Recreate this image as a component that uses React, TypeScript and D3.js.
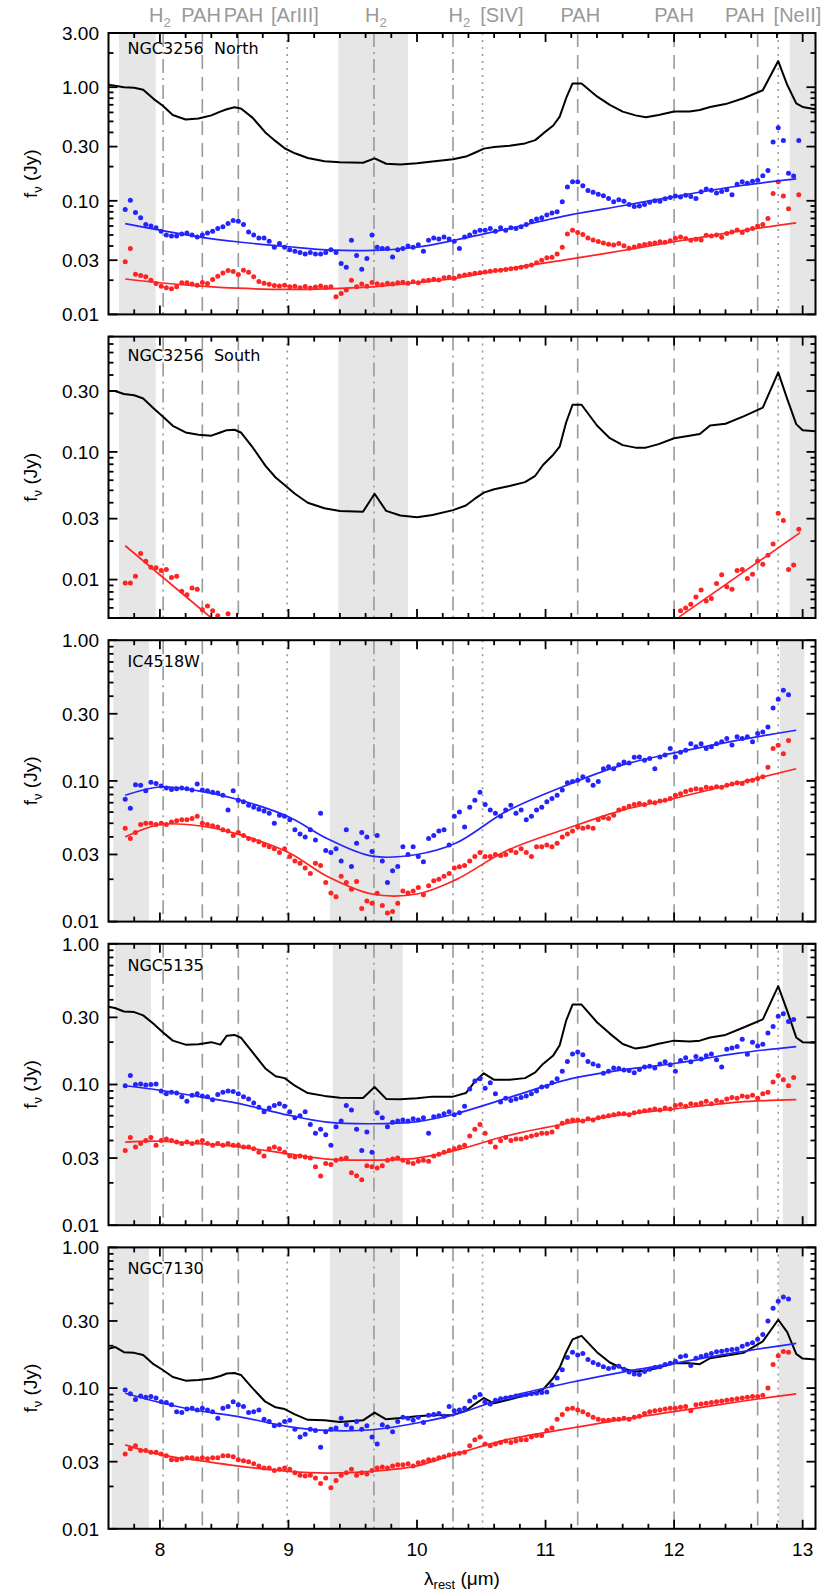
import React, { useEffect, useRef } from "react";
import * as d3 from "d3";

// wavelength grid of the dot spectra (micron)
const dotStart = 7.73;
const dotStep = 0.04;

const panelNames = ["NGC3256  North", "NGC3256  South", "IC4518W", "NGC5135", "NGC7130"];
const panelLo = [0.01, 0.005, 0.01, 0.01, 0.01];
const panelHi = [3, 0.8, 1, 1, 1];
const titleOffset = [21, 24, 27, 27, 27];
const yTickLabels = [0.01, 0.03, 0.1, 0.3, 1, 3];
const xTickLabels = [8, 9, 10, 11, 12, 13];

// grey bands, per panel
const bands = [
  [[7.682, 7.967], [9.388, 9.93], [12.9, 13.1]],
  [[7.682, 7.967], [9.388, 9.93], [12.9, 13.1]],
  [[7.637, 7.915], [9.323, 9.868], [12.824, 13.013]],
  [[7.651, 7.931], [9.344, 9.889], [12.845, 13.039]],
  [[7.625, 7.915], [9.323, 9.868], [12.816, 13.008]],
];

// emission features
const featureWl = [8.025, 8.33, 8.61, 8.99, 9.665, 10.28, 10.51, 11.25, 12.0, 12.65, 12.81];
const featureDash = ["dashdot", "dash", "dash", "dot", "dashdot", "dashdot", "dot", "dash", "dash", "dash", "dot"];
const featureLabel = ["H2", "PAH", "PAH", "[ArIII]", "H2", "H2", "[SIV]", "PAH", "PAH", "PAH", "[NeII]"];
const featureLabelWl = [8.0, 8.32, 8.65, 9.05, 9.68, 10.33, 10.66, 11.27, 12.0, 12.55, 12.96];

// black spectra
const blackWl = [7.6, 7.65, 7.72, 7.8, 7.87, 7.95, 8.02, 8.1, 8.2, 8.3, 8.4, 8.47, 8.52, 8.58, 8.63, 8.72, 8.82, 8.9, 8.97, 9.05,
  9.15, 9.28, 9.4, 9.58, 9.67, 9.76, 9.87, 10.0, 10.12, 10.28, 10.38, 10.45, 10.52, 10.6, 10.72, 10.84, 10.92, 10.98, 11.06, 11.11,
  11.16, 11.21, 11.28, 11.4, 11.5, 11.6, 11.7, 11.78, 11.88, 12.0, 12.12, 12.2, 12.28, 12.4, 12.54, 12.69, 12.81, 12.88, 12.95, 13.0, 13.1];
const p1Black = [1.05, 1.03, 1.0, 0.99, 0.95, 0.79, 0.69, 0.57, 0.52, 0.53, 0.565, 0.61, 0.64, 0.665, 0.65, 0.54, 0.4, 0.335, 0.29, 0.262,
  0.238, 0.223, 0.218, 0.216, 0.236, 0.212, 0.209, 0.214, 0.222, 0.232, 0.245, 0.265, 0.288, 0.298, 0.305, 0.32, 0.342, 0.39, 0.46, 0.55,
  0.8, 1.08, 1.08, 0.83, 0.7, 0.61, 0.565, 0.545, 0.57, 0.61, 0.61, 0.63, 0.67, 0.71, 0.8, 0.94, 1.7, 1.05, 0.72, 0.67, 0.64];
const p2Black = [0.3, 0.3, 0.284, 0.278, 0.262, 0.22, 0.19, 0.16, 0.142, 0.136, 0.134, 0.142, 0.148, 0.149, 0.142, 0.109, 0.078, 0.063, 0.055, 0.047,
  0.04, 0.0362, 0.0344, 0.034, 0.047, 0.0345, 0.0318, 0.0308, 0.032, 0.035, 0.038, 0.043, 0.048, 0.051, 0.054, 0.058, 0.065, 0.079, 0.095, 0.11,
  0.17, 0.234, 0.234, 0.161, 0.128, 0.113, 0.108, 0.108, 0.115, 0.128, 0.134, 0.138, 0.161, 0.166, 0.19, 0.222, 0.42, 0.26, 0.165, 0.148, 0.145];
const p4Black = [0.357, 0.35, 0.33, 0.327, 0.31, 0.27, 0.236, 0.205, 0.192, 0.193, 0.2, 0.192, 0.222, 0.225, 0.215, 0.17, 0.13, 0.1145, 0.111, 0.098,
  0.087, 0.083, 0.0805, 0.0803, 0.096, 0.079, 0.0785, 0.08, 0.082, 0.082, 0.087, 0.105, 0.12, 0.108, 0.108, 0.111, 0.122, 0.14, 0.161, 0.19,
  0.284, 0.37, 0.37, 0.277, 0.23, 0.194, 0.18, 0.185, 0.195, 0.205, 0.202, 0.205, 0.216, 0.225, 0.254, 0.29, 0.5, 0.334, 0.216, 0.2, 0.198];
const p5Black = [0.19, 0.196, 0.18, 0.178, 0.172, 0.148, 0.135, 0.12, 0.113, 0.114, 0.117, 0.122, 0.127, 0.128, 0.124, 0.1, 0.08, 0.073, 0.071, 0.065,
  0.0595, 0.059, 0.0575, 0.059, 0.067, 0.06, 0.0612, 0.0632, 0.064, 0.0645, 0.069, 0.077, 0.085, 0.078, 0.083, 0.089, 0.093, 0.0975, 0.118, 0.14,
  0.18, 0.222, 0.235, 0.18, 0.152, 0.138, 0.131, 0.133, 0.14, 0.151, 0.15, 0.148, 0.163, 0.17, 0.178, 0.215, 0.306, 0.25, 0.175, 0.162, 0.16];

// blue / red dot spectra (Jy), on the dot grid
const p1Blue = [
  0.084, 0.101, 0.079, 0.071, 0.062, 0.06, 0.058, 0.054, 0.05, 0.049,
  0.049, 0.051, 0.052, 0.05, 0.048, 0.05, 0.052, 0.054, 0.057, 0.059,
  0.063, 0.067, 0.066, 0.062, 0.053, 0.05, 0.047, 0.047, 0.044, 0.039,
  0.042, 0.039, 0.037, 0.036, 0.035, 0.034, 0.035, 0.034, 0.034, 0.035,
  0.037, 0.035, 0.028, 0.026, 0.045, 0.033, 0.025, 0.031, 0.05, 0.039,
  0.038, 0.038, 0.032, 0.037, 0.038, 0.04, 0.039, 0.041, 0.036, 0.045,
  0.047, 0.046, 0.048, 0.046, 0.044, 0.038, 0.048, 0.05, 0.053, 0.055,
  0.055, 0.057, 0.054, 0.058, 0.055, 0.058, 0.057, 0.059, 0.062, 0.066,
  0.069, 0.071, 0.075, 0.078, 0.08, 0.098, 0.132, 0.147, 0.147, 0.136,
  0.123, 0.119, 0.114, 0.111, 0.105, 0.098, 0.102, 0.099, 0.093, 0.089,
  0.09, 0.093, 0.097, 0.1, 0.099, 0.104, 0.107, 0.11, 0.108, 0.112,
  0.109, 0.105, 0.12, 0.127, 0.124, 0.117, 0.121, 0.125, 0.113, 0.14,
  0.147, 0.143, 0.149, 0.152, 0.166, 0.185, 0.33, 0.44, 0.34, 0.175,
  0.165, 0.34];
const p1Red = [
  0.029, 0.038, 0.0226, 0.022, 0.0214, 0.02, 0.0187, 0.0177, 0.0172, 0.0168,
  0.0175, 0.019, 0.019, 0.0185, 0.0181, 0.0191, 0.0187, 0.0203, 0.0217, 0.0232,
  0.0243, 0.0238, 0.0225, 0.0245, 0.0235, 0.0215, 0.0195, 0.0188, 0.0184, 0.018,
  0.0178, 0.0181, 0.0175, 0.0177, 0.0172, 0.0176, 0.0171, 0.0174, 0.0178, 0.0173,
  0.0175, 0.0143, 0.0153, 0.0164, 0.02, 0.0175, 0.0185, 0.0177, 0.0191, 0.0186,
  0.0182, 0.0188, 0.0185, 0.019, 0.0192, 0.0188, 0.0194, 0.019, 0.0198, 0.02,
  0.0204, 0.0201, 0.021, 0.0212, 0.0208, 0.0218, 0.0222, 0.0226, 0.023, 0.0233,
  0.0236, 0.024, 0.0243, 0.0245, 0.0248, 0.0252, 0.0255, 0.026, 0.0266, 0.0272,
  0.0285, 0.03, 0.0315, 0.0318, 0.034, 0.039, 0.051, 0.055, 0.0525, 0.0505,
  0.047, 0.0452, 0.0438, 0.0425, 0.0415, 0.0408, 0.042, 0.0402, 0.0382, 0.0392,
  0.0405, 0.0412, 0.042, 0.0425, 0.0435, 0.0432, 0.0445, 0.0468, 0.048, 0.0465,
  0.045, 0.0458, 0.0452, 0.0498, 0.049, 0.05, 0.0478, 0.0516, 0.053, 0.0552,
  0.0527, 0.0552, 0.057, 0.06, 0.062, 0.07, 0.116, 0.147, 0.11, 0.085,
  null, 0.113];
const p2RedLeftStart = 7.73;
const p2RedLeft = [0.0094, 0.0094, 0.0106, 0.016, 0.0139, 0.0125, 0.0124, 0.0118, 0.012, 0.0104,
  0.0106, 0.0081, 0.0076, 0.0086, 0.0084, 0.0058, 0.0062, 0.0057, 0.0052, 0.0047, 0.0054];
const p2RedRightStart = 12.05;
const p2RedRight = [0.0057, 0.006, 0.0064, 0.0073, 0.0083, 0.0068, 0.0071, 0.0093, 0.0109, 0.0088,
  0.0084, 0.0118, 0.012, 0.0102, 0.011, 0.014, 0.0132, 0.0155, 0.019, 0.033, 0.029, 0.012, 0.013, 0.0248];
const p3Blue = [
  0.074, 0.064, 0.094, 0.093, 0.085, 0.098, 0.096, 0.092, 0.089, 0.087,
  0.088, 0.089, 0.088, 0.086, 0.095, 0.086, 0.085, 0.083, 0.082, 0.079,
  0.062, 0.085, 0.073, 0.071, 0.067, 0.065, 0.063, 0.061, 0.059, 0.05,
  0.057, 0.056, 0.053, 0.045, 0.042, 0.04, 0.045, 0.038, 0.059, 0.032,
  0.031, 0.033, 0.027, 0.045, 0.0246, 0.036, 0.043, 0.04, 0.0315, 0.041,
  0.027, 0.019, 0.023, 0.0246, 0.034, 0.03, 0.034, 0.029, 0.0266, 0.039,
  0.041, 0.044, 0.045, 0.035, 0.056, 0.06, 0.047, 0.065, 0.073, 0.083,
  0.068, 0.062, 0.059, 0.056, 0.062, 0.067, 0.059, 0.062, 0.053, 0.056,
  0.062, 0.065, 0.071, 0.075, 0.079, 0.086, 0.097, 0.099, 0.101, 0.107,
  0.101, 0.093, 0.099, 0.122, 0.126, 0.122, 0.13, 0.136, 0.134, 0.147,
  0.148, 0.14, 0.144, 0.122, 0.148, 0.153, 0.17, 0.148, 0.16, 0.165,
  0.184, 0.175, 0.184, 0.17, 0.175, 0.184, 0.19, 0.2, 0.18, 0.206,
  0.2, 0.206, 0.19, 0.217, 0.223, 0.242, 0.33, 0.38, 0.44, 0.41,
  null, null];
const p3Red = [
  0.046, 0.039, 0.043, 0.049, 0.05, 0.05, 0.049, 0.05, 0.049, 0.051,
  0.052, 0.053, 0.053, 0.054, 0.056, 0.05, 0.049, 0.048, 0.047, 0.045,
  0.044, 0.041, 0.043, 0.041, 0.039, 0.038, 0.037, 0.035, 0.034, 0.033,
  0.031, 0.033, 0.029, 0.027, 0.026, 0.024, 0.022, 0.026, 0.025, 0.019,
  0.016, 0.015, 0.021, 0.019, 0.017, 0.0193, 0.0124, 0.014, 0.0135, 0.0159,
  0.013, 0.0115, 0.0118, 0.0135, 0.0165, 0.016, 0.0165, 0.0175, 0.0155, 0.018,
  0.0195, 0.02, 0.021, 0.022, 0.024, 0.0245, 0.025, 0.027, 0.029, 0.031,
  0.029, 0.029, 0.03, 0.0295, 0.03, 0.032, 0.031, 0.033, 0.031, 0.029,
  0.034, 0.034, 0.035, 0.034, 0.036, 0.04, 0.042, 0.044, 0.047, 0.046,
  0.047, 0.046, 0.053, 0.055, 0.054, 0.057, 0.062, 0.064, 0.066, 0.068,
  0.069, 0.068, 0.071, 0.07, 0.072, 0.073, 0.075, 0.079, 0.081, 0.084,
  0.086, 0.088, 0.087, 0.09, 0.089, 0.091, 0.09, 0.093, 0.095, 0.097,
  0.096, 0.1, 0.101, 0.104, 0.107, 0.125, 0.17, 0.179, 0.156, 0.194,
  null, null];
const p4Blue = [
  0.098, 0.116, 0.1, 0.101, 0.099, 0.1, 0.101, 0.09, 0.086, 0.088,
  0.087, 0.082, 0.076, 0.084, 0.086, 0.083, 0.082, 0.078, 0.085, 0.088,
  0.09, 0.089, 0.086, 0.082, 0.079, 0.074, 0.069, 0.064, 0.068, 0.071,
  0.073, 0.07, 0.064, 0.058, 0.06, 0.064, 0.052, 0.045, 0.048, 0.044,
  0.037, 0.05, 0.055, 0.071, 0.066, 0.048, 0.034, 0.046, 0.033, 0.063,
  0.058, 0.05, 0.054, 0.055, 0.056, 0.055, 0.057, 0.056, 0.058, 0.045,
  0.059, 0.06, 0.062, 0.064, 0.061, 0.063, 0.07, 0.093, 0.106, 0.11,
  0.094, 0.103, 0.086, 0.075, 0.08, 0.077, 0.079, 0.081, 0.083, 0.086,
  0.09, 0.096, 0.097, 0.103, 0.11, 0.124, 0.146, 0.165, 0.17, 0.163,
  0.146, 0.14, 0.136, 0.12, 0.124, 0.131, 0.13, 0.127, 0.126, 0.121,
  0.128, 0.133, 0.135, 0.131, 0.14, 0.145, 0.138, 0.124, 0.148, 0.155,
  0.145, 0.158, 0.152, 0.16, 0.165, 0.15, 0.133, 0.178, 0.182, 0.186,
  0.21, 0.164, 0.2, 0.188, 0.193, 0.232, 0.258, 0.305, 0.318, 0.28,
  0.29, null];
const p4Red = [
  0.034, 0.042, 0.036, 0.038, 0.04, 0.042, 0.037, 0.04, 0.041, 0.04,
  0.039, 0.038, 0.039, 0.038, 0.039, 0.04, 0.038, 0.037, 0.038, 0.037,
  0.038, 0.037, 0.037, 0.036, 0.036, 0.035, 0.033, 0.031, 0.035, 0.036,
  0.035, 0.033, 0.031, 0.0305, 0.031, 0.0305, 0.03, 0.026, 0.0224, 0.0275,
  0.027, 0.029, 0.0295, 0.03, 0.0236, 0.0225, 0.021, 0.0265, 0.026, 0.0255,
  0.0265, 0.029, 0.0295, 0.03, 0.029, 0.028, 0.0275, 0.0285, 0.029, 0.0285,
  0.031, 0.032, 0.033, 0.034, 0.035, 0.036, 0.037, 0.043, 0.048, 0.052,
  0.045, 0.039, 0.036, 0.04, 0.042, 0.04, 0.041, 0.041, 0.042, 0.043,
  0.044, 0.045, 0.045, 0.046, 0.05, 0.053, 0.055, 0.056, 0.056, 0.055,
  0.057, 0.056, 0.058, 0.059, 0.06, 0.061, 0.062, 0.062, 0.061, 0.063,
  0.064, 0.065, 0.066, 0.067, 0.066, 0.068, 0.067, 0.071, 0.072, 0.07,
  0.073, 0.072, 0.074, 0.076, 0.073, 0.077, 0.075, 0.079, 0.081, 0.08,
  0.083, 0.082, 0.084, 0.08, 0.086, 0.088, 0.104, 0.116, 0.108, 0.098,
  0.112, null];
const p5Blue = [
  0.097, 0.091, 0.083, 0.088, 0.086, 0.087, 0.085, 0.08, 0.079, 0.076,
  0.068, 0.067, 0.071, 0.072, 0.07, 0.072, 0.07, 0.068, 0.061, 0.072,
  0.074, 0.08, 0.076, 0.074, 0.067, 0.068, 0.07, 0.06, 0.058, 0.054,
  0.055, 0.058, 0.059, 0.051, 0.045, 0.047, 0.051, 0.05, 0.038, 0.049,
  0.051, 0.052, 0.061, 0.055, 0.052, 0.058, 0.051, 0.054, 0.045, 0.04,
  0.055, 0.053, 0.049, 0.058, 0.062, 0.061, 0.059, 0.062, 0.057, 0.064,
  0.065, 0.066, 0.063, 0.074, 0.069, 0.07, 0.072, 0.081, 0.086, 0.09,
  0.08, 0.077, 0.082, 0.084, 0.085, 0.086, 0.088, 0.089, 0.09, 0.091,
  0.092, 0.093, 0.094, 0.105, 0.118, 0.135, 0.165, 0.18, 0.172, 0.176,
  0.16, 0.152, 0.147, 0.142, 0.138, 0.14, 0.143, 0.136, 0.13, 0.126,
  0.125, 0.131, 0.136, 0.14, 0.142, 0.147, 0.15, 0.155, 0.167, 0.17,
  0.145, 0.163, 0.168, 0.172, 0.176, 0.181, 0.183, 0.186, 0.188, 0.19,
  0.198, 0.205, 0.21, 0.222, 0.24, 0.3, 0.37, 0.415, 0.445, 0.43,
  null, null];
const p5Red = [
  0.034, 0.037, 0.039, 0.036, 0.036, 0.035, 0.035, 0.034, 0.033, 0.031,
  0.031, 0.0315, 0.032, 0.032, 0.0315, 0.032, 0.0315, 0.032, 0.032, 0.033,
  0.033, 0.0325, 0.031, 0.0305, 0.03, 0.029, 0.028, 0.027, 0.027, 0.026,
  0.0265, 0.027, 0.0265, 0.025, 0.024, 0.0237, 0.024, 0.023, 0.021, 0.023,
  0.0196, 0.022, 0.024, 0.025, 0.0265, 0.024, 0.025, 0.0245, 0.026, 0.027,
  0.0275, 0.027, 0.028, 0.0285, 0.0285, 0.029, 0.028, 0.0295, 0.03, 0.031,
  0.031, 0.032, 0.0325, 0.0335, 0.034, 0.0345, 0.035, 0.039, 0.043, 0.045,
  0.04, 0.039, 0.04, 0.041, 0.042, 0.041, 0.042, 0.043, 0.043, 0.045,
  0.046, 0.046, 0.05, 0.052, 0.06, 0.065, 0.071, 0.072, 0.07, 0.068,
  0.065, 0.062, 0.06, 0.059, 0.059, 0.06, 0.06, 0.061, 0.06, 0.062,
  0.063, 0.066, 0.068, 0.069, 0.07, 0.071, 0.072, 0.072, 0.073, 0.074,
  0.069, 0.076, 0.077, 0.078, 0.079, 0.08, 0.081, 0.082, 0.083, 0.084,
  0.085, 0.086, 0.087, 0.087, 0.089, 0.1, 0.147, 0.17, 0.182, 0.18,
  null, null];

// smooth fits
const fitWl = [7.73, 8.0, 8.3, 8.6, 9.0, 9.3, 9.65, 10.0, 10.3, 10.7, 11.2, 11.6, 12.0, 12.5, 12.95];
const p1BlueFit = [0.063, 0.0552, 0.0482, 0.0436, 0.0394, 0.037, 0.0366, 0.039, 0.0452, 0.0565, 0.0755, 0.0905, 0.109, 0.135, 0.156];
const p1RedFit = [0.0205, 0.019, 0.0178, 0.017, 0.0166, 0.0168, 0.0175, 0.019, 0.0208, 0.0252, 0.0308, 0.0365, 0.0436, 0.054, 0.064];
const p3BlueFit = [0.079, 0.0905, 0.085, 0.074, 0.0556, 0.039, 0.0292, 0.03, 0.036, 0.061, 0.096, 0.13, 0.158, 0.195, 0.229];
const p3RedFit = [0.04, 0.049, 0.048, 0.042, 0.031, 0.021, 0.0157, 0.0157, 0.0198, 0.032, 0.047, 0.062, 0.075, 0.097, 0.122];
const p4BlueFit = [0.098, 0.091, 0.082, 0.0737, 0.0605, 0.054, 0.0526, 0.0545, 0.062, 0.08, 0.11, 0.127, 0.141, 0.167, 0.186];
const p4RedFit = [0.039, 0.0395, 0.038, 0.0362, 0.0322, 0.0295, 0.029, 0.03, 0.034, 0.0432, 0.0535, 0.061, 0.067, 0.075, 0.078];
const p5BlueFit = [0.092, 0.079, 0.069, 0.063, 0.0533, 0.05, 0.0506, 0.0565, 0.065, 0.086, 0.11, 0.13, 0.15, 0.18, 0.208];
const p5RedFit = [0.0395, 0.0337, 0.0306, 0.028, 0.0256, 0.0249, 0.0256, 0.028, 0.034, 0.043, 0.052, 0.06, 0.068, 0.08, 0.091];
const p2FitLeftWl = [7.73, 8.4];
const p2FitLeft = [0.0184, 0.005];
const p2FitRightWl = [12.04, 12.98];
const p2FitRight = [0.0051, 0.0233];

const BLUE = "#2424ff";
const RED = "#ff2424";
const GREY = "#999999";
const dashes: Record<string, string> = { dash: "14,8", dashdot: "14,5,2,5", dot: "2,5" };

const App = () => {
  const svgRef = useRef<SVGSVGElement>(null);

  useEffect(() => {
    const svg = d3.select(svgRef.current);
    svg.selectAll("*").remove();
    const left = 108.5, right = 815.5;
    const x = d3.scaleLinear().domain([7.6, 13.1]).range([left, right]);
    const defs = svg.append("defs");

    const blacks = [p1Black, p2Black, null, p4Black, p5Black];
    const blues = [p1Blue, null, p3Blue, p4Blue, p5Blue];
    const reds = [p1Red, null, p3Red, p4Red, p5Red];
    const blueFits = [p1BlueFit, null, p3BlueFit, p4BlueFit, p5BlueFit];
    const redFits = [p1RedFit, null, p3RedFit, p4RedFit, p5RedFit];

    panelNames.forEach((name, i) => {
      const top = 33 + i * 303.6;
      const bottom = top + 281.4;
      const y = d3.scaleLog().domain([panelLo[i], panelHi[i]]).range([bottom, top]);

      defs.append("clipPath").attr("id", "clip" + i)
        .append("rect").attr("x", left).attr("y", top).attr("width", right - left).attr("height", bottom - top);

      const plot = svg.append("g").attr("clip-path", `url(#clip${i})`);

      bands[i].forEach(([a, b]) => {
        plot.append("rect").attr("x", x(a)).attr("y", top)
          .attr("width", x(b) - x(a)).attr("height", bottom - top).attr("fill", "#e6e6e6");
      });

      featureWl.forEach((w, k) => {
        plot.append("line").attr("x1", x(w)).attr("x2", x(w)).attr("y1", top).attr("y2", bottom)
          .attr("stroke", GREY).attr("stroke-width", 1.6).attr("stroke-dasharray", dashes[featureDash[k]]);
      });

      const blk = blacks[i];
      if (blk) {
        plot.append("path")
          .attr("d", d3.line<number>().x((_, k) => x(blackWl[k])).y((d) => y(d))(blk))
          .attr("fill", "none").attr("stroke", "#000").attr("stroke-width", 2).attr("stroke-linejoin", "round");
      }

      const drawDots = (vals: (number | null)[], start: number, color: string) => {
        const pts = vals.map((v, k) => ({ w: start + k * dotStep, v })).filter((p) => p.v != null);
        plot.append("g").selectAll("circle").data(pts).enter().append("circle")
          .attr("cx", (p) => x(p.w)).attr("cy", (p) => y(p.v as number)).attr("r", 2.5).attr("fill", color);
      };
      const drawFit = (wl: number[], vals: number[], color: string, curve: d3.CurveFactory) => {
        plot.append("path")
          .attr("d", d3.line<number>().x((_, k) => x(wl[k])).y((d) => y(d)).curve(curve)(vals))
          .attr("fill", "none").attr("stroke", color).attr("stroke-width", 1.7);
      };

      const bl = blues[i], rd = reds[i];
      if (bl) drawDots(bl, dotStart, BLUE);
      if (rd) drawDots(rd, dotStart, RED);
      if (i === 1) {
        drawDots(p2RedLeft, p2RedLeftStart, RED);
        drawDots(p2RedRight, p2RedRightStart, RED);
        drawFit(p2FitLeftWl, p2FitLeft, RED, d3.curveLinear);
        drawFit(p2FitRightWl, p2FitRight, RED, d3.curveLinear);
      }
      const bf = blueFits[i], rf = redFits[i];
      if (bf) drawFit(fitWl, bf, BLUE, d3.curveCatmullRom);
      if (rf) drawFit(fitWl, rf, RED, d3.curveCatmullRom);

      // frame
      const axes = svg.append("g");
      axes.append("rect").attr("x", left).attr("y", top).attr("width", right - left).attr("height", bottom - top)
        .attr("fill", "none").attr("stroke", "#000").attr("stroke-width", 2);

      // x ticks (top and bottom, inward)
      const minorX = d3.range(7.8, 13.05, 0.2).filter((t) => Math.abs(t - Math.round(t)) > 0.01);
      const tick = (x1: number, y1: number, x2: number, y2: number) =>
        axes.append("line").attr("x1", x1).attr("y1", y1).attr("x2", x2).attr("y2", y2)
          .attr("stroke", "#000").attr("stroke-width", 1.8);
      xTickLabels.forEach((t) => { tick(x(t), bottom, x(t), bottom - 9); tick(x(t), top, x(t), top + 9); });
      minorX.forEach((t) => { tick(x(t), bottom, x(t), bottom - 5); tick(x(t), top, x(t), top + 5); });

      // y ticks (left and right, inward)
      const labelled = yTickLabels.filter((v) => v >= panelLo[i] * 0.999 && v <= panelHi[i] * 1.001);
      y.ticks().forEach((t) => {
        const major = labelled.some((v) => Math.abs(v - t) / v < 1e-6);
        const len = major ? 9 : 5;
        tick(left, y(t), left + len, y(t));
        tick(right, y(t), right - len, y(t));
      });
      labelled.forEach((v) => {
        axes.append("text").attr("x", 99).attr("y", y(v)).attr("dy", "0.36em")
          .attr("text-anchor", "end").attr("font-family", "Liberation Sans, Arial, sans-serif")
          .attr("font-size", 19).text(d3.format(".2f")(v));
      });

      // y title
      const yt = axes.append("text")
        .attr("transform", `translate(37,${(top + bottom) / 2}) rotate(-90)`)
        .attr("text-anchor", "middle").attr("font-family", "Liberation Sans, Arial, sans-serif").attr("font-size", 19);
      yt.append("tspan").text("f");
      yt.append("tspan").attr("font-size", 13).attr("dy", 5).text("ν");
      yt.append("tspan").attr("dy", -5).text(" (Jy)");

      // panel title
      axes.append("text").attr("x", 127.5).attr("y", top + titleOffset[i])
        .attr("font-family", "DejaVu Sans, sans-serif").attr("font-size", 16)
        .style("white-space", "pre").text(name);

      if (i === panelNames.length - 1) {
        xTickLabels.forEach((t) => {
          axes.append("text").attr("x", x(t)).attr("y", 1556).attr("text-anchor", "middle")
            .attr("font-family", "Liberation Sans, Arial, sans-serif").attr("font-size", 19).text(t);
        });
        const xt = axes.append("text").attr("x", (left + right) / 2).attr("y", 1585).attr("text-anchor", "middle")
          .attr("font-family", "Liberation Sans, Arial, sans-serif").attr("font-size", 19);
        xt.append("tspan").text("λ");
        xt.append("tspan").attr("font-size", 13).attr("dy", 4).text("rest");
        xt.append("tspan").attr("dy", -4).text(" (μm)");
      }
    });

    // feature labels along the top
    featureLabel.forEach((lab, k) => {
      const t = svg.append("text").attr("x", x(featureLabelWl[k])).attr("y", 22).attr("text-anchor", "middle")
        .attr("font-family", "Liberation Sans, Arial, sans-serif").attr("font-size", 20).attr("fill", GREY);
      if (lab === "H2") {
        t.append("tspan").text("H");
        t.append("tspan").attr("font-size", 13).attr("dy", 5).text("2");
      } else {
        t.text(lab);
      }
    });
  }, []);

  return (
    <svg
      ref={svgRef}
      width={830}
      height={1594}
      style={{ position: "absolute", left: 0, top: 0, background: "#fff" }}
    ></svg>
  );
};

export default App;
